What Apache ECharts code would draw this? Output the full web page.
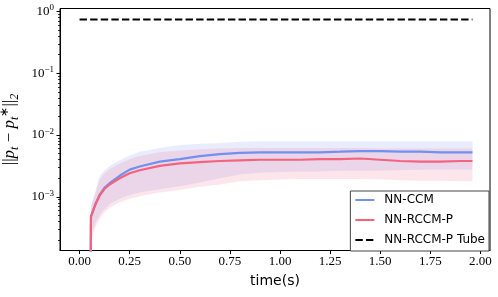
<!DOCTYPE html>
<html><head><meta charset="utf-8">
<script src="https://cdn.jsdelivr.net/npm/echarts@6.0.0/dist/echarts.min.js"></script>
<style>html,body{margin:0;padding:0;background:#fff}#c{width:498px;height:297px}</style>
</head><body><div id="c"></div>
<script>
// time (s)
const T = [0.00, 0.04, 0.057, 0.08, 0.10, 0.125, 0.15, 0.20, 0.25, 0.30, 0.40, 0.50, 0.60, 0.70, 0.80, 0.90, 1.00, 1.10, 1.20, 1.30, 1.40, 1.50, 1.60, 1.70, 1.80, 1.90, 1.96];
// NN-CCM mean error
const CCM = [1e-12, 1e-12, 4.79e-4, 7.76e-4, 1.07e-3, 1.41e-3, 1.66e-3, 2.19e-3, 2.75e-3, 3.09e-3, 3.72e-3, 4.07e-3, 4.57e-3, 4.90e-3, 5.13e-3, 5.25e-3, 5.25e-3, 5.25e-3, 5.25e-3, 5.37e-3, 5.50e-3, 5.50e-3, 5.37e-3, 5.37e-3, 5.25e-3, 5.25e-3, 5.25e-3];
const CCM_UP = [null, null, 6.92e-4, 1.26e-3, 2.14e-3, 2.69e-3, 3.16e-3, 3.89e-3, 4.68e-3, 5.37e-3, 6.17e-3, 6.92e-3, 7.24e-3, 7.41e-3, 7.76e-3, 7.94e-3, 7.94e-3, 7.94e-3, 7.94e-3, 7.94e-3, 7.94e-3, 7.94e-3, 7.94e-3, 7.94e-3, 7.94e-3, 7.94e-3, 7.94e-3];
const CCM_LO = [null, null, 2.40e-4, 3.80e-4, 5.01e-4, 6.31e-4, 7.59e-4, 9.33e-4, 1.07e-3, 1.17e-3, 1.32e-3, 1.48e-3, 1.70e-3, 2.00e-3, 2.29e-3, 2.45e-3, 2.51e-3, 2.57e-3, 2.57e-3, 2.63e-3, 2.63e-3, 2.63e-3, 2.69e-3, 2.75e-3, 2.75e-3, 2.75e-3, 2.75e-3];
// NN-RCCM-P mean error
const RCCM = [1e-12, 1e-12, 4.79e-4, 7.59e-4, 1.05e-3, 1.35e-3, 1.58e-3, 2.00e-3, 2.40e-3, 2.69e-3, 3.16e-3, 3.47e-3, 3.63e-3, 3.80e-3, 3.89e-3, 3.98e-3, 3.98e-3, 3.98e-3, 4.07e-3, 4.07e-3, 4.17e-3, 3.98e-3, 3.80e-3, 3.72e-3, 3.72e-3, 3.80e-3, 3.80e-3];
const RCCM_UP = [null, null, 6.92e-4, 1.17e-3, 1.91e-3, 2.40e-3, 2.82e-3, 3.47e-3, 4.07e-3, 4.57e-3, 5.25e-3, 5.62e-3, 5.89e-3, 6.03e-3, 6.17e-3, 6.17e-3, 6.17e-3, 6.17e-3, 6.17e-3, 6.17e-3, 6.17e-3, 6.03e-3, 6.03e-3, 6.03e-3, 6.03e-3, 6.03e-3, 6.03e-3];
const RCCM_LO = [null, null, 1.91e-4, 3.31e-4, 4.37e-4, 5.62e-4, 6.61e-4, 8.13e-4, 9.33e-4, 1.02e-3, 1.17e-3, 1.29e-3, 1.45e-3, 1.58e-3, 1.78e-3, 1.86e-3, 1.91e-3, 1.95e-3, 1.95e-3, 1.95e-3, 1.95e-3, 1.91e-3, 1.86e-3, 1.82e-3, 1.82e-3, 1.78e-3, 1.78e-3];
// NN-RCCM-P tube bound
const TUBE_T = [0.00, 1.96];
const TUBE = [0.74, 0.74];
// axis ticks
const X_TICKS = [0, 0.25, 0.5, 0.75, 1.0, 1.25, 1.5, 1.75, 2.0];
const Y_TICKS = [1e-3, 1e-2, 1e-1, 1];
const Y_MINOR = [2e-4,3e-4,4e-4,5e-4,6e-4,7e-4,8e-4,9e-4,2e-3,3e-3,4e-3,5e-3,6e-3,7e-3,8e-3,9e-3,2e-2,3e-2,4e-2,5e-2,6e-2,7e-2,8e-2,9e-2,0.2,0.3,0.4,0.5,0.6,0.7,0.8,0.9];
const Y_EXP = {'0.001': '−3', '0.01': '−2', '0.1': '−1', '1': '0'};

const BLUE = '#7190f0', RED = '#f4637d';
const BLUE_FILL = '#6c80eb', RED_FILL = '#f2587a';

function bandSeries(name, up, lo, color) {
  return {
    type: 'custom', name: name + ' band', silent: true, clip: true, z: 1,
    data: [[T[2], up[2]]],
    renderItem: function (params, api) {
      const pts = [];
      for (let i = 0; i < T.length; i++) if (up[i] != null) pts.push(api.coord([T[i], up[i]]));
      for (let i = T.length - 1; i >= 0; i--) if (lo[i] != null) pts.push(api.coord([T[i], lo[i]]));
      return { type: 'polygon', shape: { points: pts }, style: { fill: color, opacity: 0.15 } };
    }
  };
}

const chart = echarts.init(document.getElementById('c'), null, { renderer: 'canvas' });
const serif = 'Liberation Serif';
chart.setOption({
  animation: false,
  grid: { left: 60, right: 8, top: 8.5, bottom: 46.5, show: true, borderColor: '#000', borderWidth: 1,
    containLabel: false, outerBoundsMode: 'none' },
  legend: {
    orient: 'vertical', right: 9, bottom: 46,
    data: ['NN-CCM', 'NN-RCCM-P', 'NN-RCCM-P Tube'],
    itemWidth: 19, itemHeight: 14, itemGap: 8,
    padding: [3, 4, 5, 4],
    itemStyle: { opacity: 0 },
    lineStyle: { width: 2 },
    borderColor: '#444', borderWidth: 1, borderRadius: 0, backgroundColor: '#fff',
    textStyle: { fontFamily: 'DejaVu Sans', fontSize: 12, color: '#000', padding: [0, 0, 0, 5] }
  },
  xAxis: {
    type: 'value', min: -0.0975, max: 2.0475,
    name: 'time(s)', nameLocation: 'middle', nameGap: 24,
    nameTextStyle: { fontFamily: 'DejaVu Sans', fontSize: 14, color: '#000' },
    axisLine: { onZero: false, lineStyle: { color: '#000', width: 1 } },
    axisTick: { customValues: X_TICKS, length: 3.5, lineStyle: { color: '#000' } },
    axisLabel: { customValues: X_TICKS, margin: 5, fontFamily: serif, fontSize: 13, color: '#000',
      formatter: v => v.toFixed(2) },
    splitLine: { show: false }
  },
  yAxis: [{
    type: 'log', logBase: 10, min: 1.35e-4, max: 1.12,
    name: '{n|||}{i|p}{sb|t}{n| − }{i|p}{sb|t}{sp|∗}{n|||}{sb|2}',
    nameLocation: 'middle', nameGap: 37, nameRotate: 90,
    nameTextStyle: {
      color: '#000',
      rich: {
        n: { fontFamily: serif, fontSize: 17, lineHeight: 22, color: '#000' },
        i: { fontFamily: serif, fontStyle: 'italic', fontSize: 17, lineHeight: 22, color: '#000' },
        sb: { fontFamily: serif, fontStyle: 'italic', fontSize: 12, lineHeight: 11, verticalAlign: 'bottom', color: '#000' },
        sp: { fontFamily: serif, fontSize: 12, lineHeight: 11, verticalAlign: 'top', color: '#000' }
      }
    },
    axisLine: { show: true, onZero: false, lineStyle: { color: '#000', width: 1 } },
    axisTick: { customValues: Y_TICKS, length: 3.5, lineStyle: { color: '#000' } },
    axisLabel: {
      customValues: Y_TICKS, margin: 6,
      formatter: v => '{b|10}{s|' + Y_EXP[String(+v.toPrecision(3))] + '}',
      rich: {
        b: { fontFamily: serif, fontSize: 13, lineHeight: 16, color: '#000' },
        s: { fontFamily: serif, fontSize: 9, lineHeight: 9, verticalAlign: 'top', color: '#000' }
      }
    },
    splitLine: { show: false }
  }, {
    type: 'log', logBase: 10, min: 1.35e-4, max: 1.12, position: 'left', offset: 0,
    axisLine: { show: false, onZero: false },
    axisTick: { customValues: Y_MINOR, length: 2, lineStyle: { color: '#000', width: 0.8 } },
    axisLabel: { show: false },
    splitLine: { show: false }
  }],
  series: [
    bandSeries('NN-CCM', CCM_UP, CCM_LO, BLUE_FILL),
    bandSeries('NN-RCCM-P', RCCM_UP, RCCM_LO, RED_FILL),
    { type: 'line', name: 'NN-CCM', data: T.map((t, i) => [t, CCM[i]]), symbol: 'none', clip: true, z: 3,
      lineStyle: { color: BLUE, width: 2.2 }, itemStyle: { color: BLUE } },
    { type: 'line', name: 'NN-RCCM-P', data: T.map((t, i) => [t, RCCM[i]]), symbol: 'none', clip: true, z: 4,
      lineStyle: { color: RED, width: 2.2 }, itemStyle: { color: RED } },
    { type: 'line', name: 'NN-RCCM-P Tube', data: TUBE_T.map((t, i) => [t, TUBE[i]]), symbol: 'none', z: 5,
      lineStyle: { color: '#000', width: 2, type: [7.4, 3.2] }, itemStyle: { color: '#000' } }
  ]
});
</script></body></html>
